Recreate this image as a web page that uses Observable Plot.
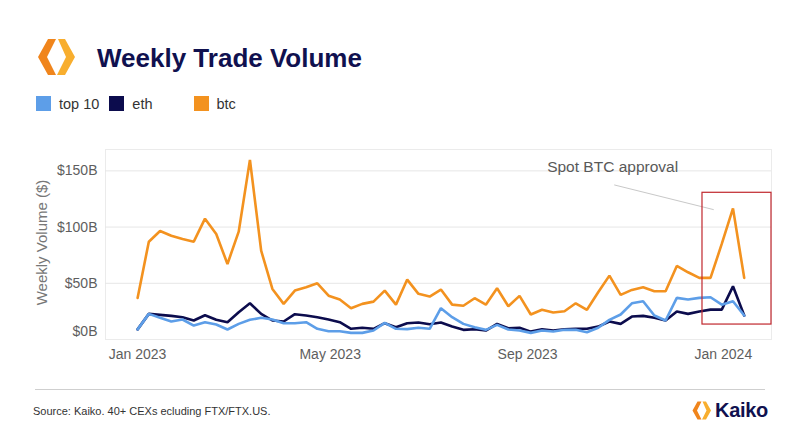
<!DOCTYPE html>
<html><head><meta charset="utf-8">
<script src="https://cdn.jsdelivr.net/npm/d3@7"></script>
<script src="https://cdn.jsdelivr.net/npm/@observablehq/plot@0.6"></script>
<style>
body{margin:0;background:#fff;font-family:"Liberation Sans",Arial,sans-serif;}
#wrap{position:relative;width:800px;height:434px;overflow:hidden;background:#fff}
#logo{position:absolute;left:35px;top:37px}
#title{position:absolute;left:97px;top:45px;font-size:26px;line-height:1;font-weight:bold;color:#10114f;white-space:nowrap}
#legend{position:absolute;left:36px;top:96px;display:flex;align-items:center;font-size:14.5px;color:#333;height:15px}
.item{display:flex;align-items:center}
.sw{width:15px;height:15px;display:inline-block;margin-right:8px}
#chart{position:absolute;left:0;top:120px}
#rule{position:absolute;left:35px;top:389px;width:730px;height:1px;background:#cfcfcf}
#source{position:absolute;left:33px;top:405px;font-size:11px;color:#333;white-space:nowrap}
#klogo{position:absolute;left:691px;top:399px;display:flex;align-items:center}
#klogo span{font-weight:bold;font-size:20px;color:#10114f;margin-left:3px;letter-spacing:-0.3px}
</style></head>
<body><div id="wrap">
<svg id="logo" width="42" height="40" viewBox="0 0 42 40">
  <polygon points="13,2 21,2 12,20 21,38 13,38 3,20" fill="#f0851c"/>
  <polygon points="23,2 30,2 40,20 30,38 22,38 31,20" fill="#f8ae2e"/>
</svg>
<div id="title">Weekly Trade Volume</div>
<div id="legend"></div>
<div id="chart"></div>
<div id="rule"></div>
<div id="source">Source: Kaiko. 40+ CEXs ecluding FTX/FTX.US.</div>
<div id="klogo"><svg width="21" height="21" viewBox="0 0 42 40">
  <polygon points="13,2 21,2 12,20 21,38 13,38 3,20" fill="#f0851c"/>
  <polygon points="23,2 30,2 40,20 30,38 22,38 31,20" fill="#f8ae2e"/>
</svg><span>Kaiko</span></div>
</div>
<script>
// ---- data (USD billions, weekly) ----
const firstWeek = "2023-01-01";
const btc = [37, 87, 96.5, 92.3, 89.4, 87, 107.5, 93.8, 67.2, 95.9, 159.8, 79, 45, 31.7, 43.5, 46.4, 50, 39, 35.5, 27.8, 31.7, 33.7, 43.5, 31, 53.3, 40.6, 38.2, 44.4, 31, 30, 36.7, 31, 45.6, 29.6, 38.8, 22.2, 26.4, 24, 25.1, 32.2, 26.4, 42, 56.8, 39.7, 44.1, 46.4, 42.9, 42.9, 65.4, 59.8, 54.8, 54.8, 85, 116.6, 54.8];
const eth = [9, 22.8, 21.9, 21, 19.8, 16.9, 21.6, 17.5, 15.4, 24.3, 32.2, 22.8, 16.9, 16, 22.5, 21.3, 19.8, 17.8, 15.4, 9.5, 10.4, 9.5, 14.5, 10.9, 14.5, 15.1, 13.6, 15.1, 11.5, 8.6, 9.1, 8, 13.9, 10, 10.4, 7, 9.1, 8, 9.1, 9.5, 9.5, 11.5, 16, 13.9, 20.4, 21, 19.3, 16.9, 24.9, 22.8, 24.9, 26.6, 26.6, 47.3, 21.3];
const top10 = [9, 22.8, 19.3, 16, 17.8, 12.4, 15.4, 13.3, 8.9, 13.9, 17.5, 19.3, 17.8, 14.5, 14.5, 15.4, 9.5, 7.4, 7.4, 5.9, 5.9, 8, 14.8, 9.5, 9.2, 10.4, 9.5, 27.8, 19.8, 13.9, 10.9, 8.6, 13, 8.9, 8, 5.9, 8, 7.1, 8.6, 8.6, 6.5, 10.4, 17.5, 22.2, 32.2, 34, 21.3, 16.9, 37, 35.5, 37, 37.6, 31, 34, 21.3];
const seriesNames = ["top 10", "eth", "btc"];
const seriesColors = ["#5d9ee8", "#0c0c4d", "#f3921f"];
const xTicks = ["2023-01-01", "2023-05-01", "2023-09-01", "2024-01-01"];
const yTicks = [0, 50, 100, 150];
const xDomain = ["2022-12-12", "2024-01-31"];
const yDomain = [0, 169];
// annotation (data coordinates)
const noteText = ["Spot BTC approval"];
const notePos = [["2023-10-24", 153.5]];
const noteLink = [["2023-10-25", 137.5, "2023-12-26", 115.5]];
const highlight = [["2023-12-19", 13.3, "2024-01-31", 130.5]];

// ---- build table ----
const seriesValues = {"top 10": top10, "eth": eth, "btc": btc};
const drawOrder = ["btc", "eth", "top 10"];
const rows = [];
for (const s of drawOrder) {
  seriesValues[s].forEach((v, i) => rows.push({series: s, date: d3.utcWeek.offset(new Date(firstWeek), i), value: v}));
}

// legend
const lg = document.getElementById("legend");
const gaps = [10, 41, 0];
seriesNames.forEach((n, i) => {
  const d = document.createElement("div"); d.className = "item"; d.style.marginRight = gaps[i] + "px";
  d.innerHTML = `<span class="sw" style="background:${seriesColors[i]}"></span><span>${n}</span>`;
  lg.appendChild(d);
});

const fmt = d => `$${d}B`;
const chart = Plot.plot({
  width: 800, height: 250,
  marginTop: 29, marginBottom: 31, marginLeft: 105, marginRight: 29,
  style: {fontFamily: "Liberation Sans, Arial, sans-serif", fontSize: "14px", color: "#5e5e5e", background: "transparent"},
  x: {type: "utc", domain: xDomain.map(d => new Date(d))},
  y: {domain: yDomain},
  color: {domain: seriesNames, range: seriesColors},
  marks: [
    Plot.frame({stroke: "#ebebeb"}),
    Plot.gridY(yTicks.slice(1), {stroke: "#e6e6e6", strokeOpacity: 1}),
    Plot.axisX(xTicks.map(d => new Date(d)), {tickSize: 0, tickPadding: 10, tickFormat: d3.utcFormat("%b %Y"), label: null, fontSize: 14}),
    Plot.axisY(yTicks.slice(1), {tickSize: 0, tickPadding: 8, tickFormat: fmt, fontSize: 14, label: null}),
    Plot.axisY(yTicks.slice(0, 1), {tickSize: 0, tickPadding: 8, tickFormat: fmt, fontSize: 14, dy: -8, label: null}),
    Plot.text(["Weekly Volume ($)"], {frameAnchor: "left", dx: -63, dy: -2, rotate: -90, textAnchor: "middle", text: d => d, fontSize: 15, fill: "#777"}),
    Plot.line(rows, {x: "date", y: "value", z: "series", stroke: "series", strokeWidth: 2.6, strokeLinejoin: "miter"}),
    Plot.link(noteLink, {x1: d => new Date(d[0]), y1: d => d[1], x2: d => new Date(d[2]), y2: d => d[3], stroke: "#c8c8c8", strokeWidth: 1}),
    Plot.text(noteText, {x: (d, i) => new Date(notePos[i][0]), y: (d, i) => notePos[i][1], text: d => d, fontSize: 15.5, fill: "#595959"}),
    Plot.rect(highlight, {x1: d => new Date(d[0]), y1: d => d[1], x2: d => new Date(d[2]), y2: d => d[3], fill: "none", stroke: "#c0272d", strokeWidth: 1.2})
  ]
});
document.getElementById("chart").appendChild(chart);
</script>
</body></html>
